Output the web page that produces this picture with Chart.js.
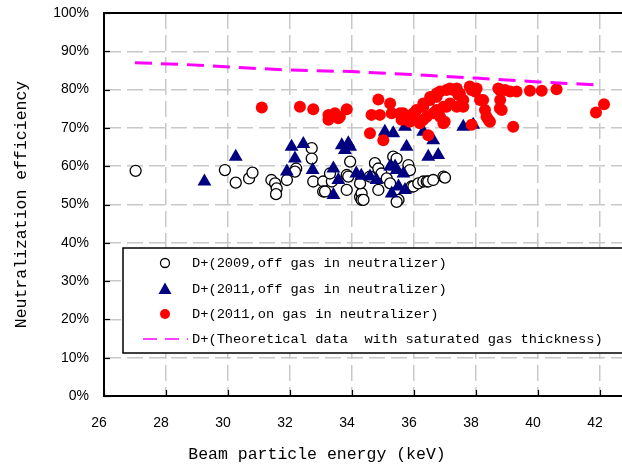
<!DOCTYPE html>
<html>
<head>
<meta charset="utf-8">
<script src="https://cdn.jsdelivr.net/npm/chart.js@4.4.1/dist/chart.umd.min.js"></script>
<style>
html, body { margin: 0; padding: 0; background: #fff; }
</style>
</head>
<body>
<canvas id="chart" width="622" height="470"></canvas>
<script>
// Axis titles and legend labels
var xTitle = 'Beam particle energy (keV)';
var yTitle = 'Neutralization efficiency';
var legendLabels = [
	'D+(2009,off gas in neutralizer)',
	'D+(2011,off gas in neutralizer)',
	'D+(2011,on gas in neutralizer)',
	'D+(Theoretical data  with saturated gas thickness)'
];
var xTicks = [26, 28, 30, 32, 34, 36, 38, 40, 42];
var yTicks = [0, 10, 20, 30, 40, 50, 60, 70, 80, 90, 100];

// D+ 2009, off gas (energy keV, efficiency %)
var e2009 = [27.02, 29.9, 30.25, 30.68, 30.79, 31.4, 31.52, 31.57, 31.55, 31.9, 32.2, 32.16, 32.7, 32.7, 32.75, 33.07, 33.07, 33.13, 33.35, 33.29, 33.83, 33.94, 33.83, 33.88, 34.26, 34.31, 34.31, 34.37, 34.26, 34.58, 34.74, 34.85, 34.85, 34.95, 35.12, 35.23, 35.33, 35.44, 35.5, 35.44, 35.82, 35.87, 35.92, 35.98, 36.14, 36.3, 36.41, 36.46, 36.62, 36.95, 37.0];
var eff2009 = [58.8, 59.0, 55.7, 56.8, 58.3, 56.4, 55.5, 54.2, 52.7, 56.4, 59.4, 58.6, 64.7, 62.0, 56.0, 56.0, 53.4, 53.4, 56.0, 58.1, 53.8, 61.2, 57.7, 57.3, 52.0, 52.9, 51.2, 51.2, 55.5, 57.3, 60.8, 59.4, 53.8, 58.1, 56.8, 55.5, 62.5, 62.0, 51.2, 50.7, 60.3, 59.0, 54.7, 54.7, 55.5, 56.0, 56.0, 56.0, 56.4, 57.3, 57.0];

// D+ 2011, off gas
var e2011off = [29.24, 30.25, 31.9, 32.05, 32.16, 32.43, 32.73, 33.4, 33.56, 33.4, 33.67, 33.88, 33.77, 33.94, 34.14, 34.3, 34.58, 34.79, 35.06, 35.33, 35.71, 35.76, 35.39, 35.23, 35.44, 35.5, 35.71, 35.28, 35.66, 36.3, 36.62, 36.46, 36.78, 37.59, 37.91];
var eff2011off = [56.0, 62.5, 58.6, 65.1, 62.0, 65.8, 59.0, 59.4, 56.4, 52.5, 65.5, 66.0, 64.2, 65.1, 58.1, 57.5, 57.3, 56.4, 69.0, 68.6, 70.3, 65.1, 59.9, 59.9, 59.0, 54.7, 53.8, 52.9, 58.1, 69.0, 66.8, 62.5, 62.9, 70.3, 70.8];

// D+ 2011, on gas
var e2011on = [31.09, 32.32, 32.75, 33.24, 33.45, 33.24, 33.56, 33.83, 33.61, 34.85, 34.63, 35.23, 35.28, 34.9, 34.58, 35.01, 35.65, 35.76, 35.98, 36.19, 36.3, 36.52, 36.73, 36.84, 37.05, 37.27, 37.43, 36.95, 37.16, 37.38, 36.84, 36.95, 36.62, 36.41, 36.08, 37.59, 37.86, 38.02, 38.13, 38.23, 38.34, 38.45, 37.86, 36.46, 38.72, 38.94, 38.78, 38.83, 39.31, 39.2, 39.74, 40.12, 40.6, 41.87, 42.13, 37.8, 37.97, 38.29, 38.4, 38.77, 39.1, 38.77, 36.99, 36.08, 36.3, 36.52, 36.73, 37.16, 37.38, 37.48, 37.59, 36.73, 37.05, 36.3, 35.87, 35.55, 35.6];
var eff2011on = [75.3, 75.5, 74.9, 73.4, 73.8, 72.1, 72.5, 74.9, 72.9, 77.4, 73.4, 76.4, 73.8, 73.4, 68.6, 66.8, 73.8, 72.1, 73.8, 71.2, 75.5, 77.3, 78.1, 79.5, 79.9, 79.9, 78.6, 75.5, 76.4, 75.5, 72.9, 71.2, 73.8, 72.9, 72.1, 75.5, 79.9, 80.3, 77.3, 77.3, 72.9, 71.6, 70.8, 68.1, 80.3, 79.9, 77.3, 74.7, 79.5, 70.3, 79.7, 79.7, 80.1, 74.0, 76.2, 80.8, 79.5, 74.7, 72.1, 79.9, 79.5, 75.1, 71.6, 74.7, 76.4, 78.1, 79.0, 80.3, 80.3, 79.0, 77.3, 74.7, 75.5, 72.1, 71.6, 73.8, 72.1];

// Theoretical curve
var eTheory = [27, 28.5, 30.5, 32, 34, 36, 38, 40, 42];
var effTheory = [87.0, 86.6, 85.7, 85.1, 84.7, 83.9, 83.0, 82.0, 81.2];

function toPoints(xs, ys) {
	var pts = [];
	for (var i = 0; i < xs.length; i++) {
		pts.push({ x: xs[i], y: ys[i] });
	}
	return pts;
}

var monoFont = '"Liberation Mono", "DejaVu Sans Mono", monospace';

// Frame, inward ticks, legend box and x title
var framePlugin = {
	id: 'frame',
	afterDraw: function(chart) {
		var ctx = chart.ctx;
		var a = chart.chartArea;
		var xs = chart.scales.x;
		var ys = chart.scales.y;
		ctx.save();

		// top border
		ctx.strokeStyle = '#000';
		ctx.lineWidth = 2;
		ctx.beginPath();
		ctx.moveTo(a.left, a.top);
		ctx.lineTo(a.right, a.top);
		ctx.stroke();

		// short ticks pointing into the plot
		ctx.lineWidth = 1.2;
		xTicks.forEach(function(v) {
			var px = Math.round(xs.getPixelForValue(v)) + 0.5;
			ctx.beginPath();
			ctx.moveTo(px, a.bottom);
			ctx.lineTo(px, a.bottom - 6);
			ctx.stroke();
		});
		yTicks.forEach(function(v) {
			var py = Math.round(ys.getPixelForValue(v)) + 0.5;
			ctx.beginPath();
			ctx.moveTo(a.left, py);
			ctx.lineTo(a.left + 6, py);
			ctx.stroke();
		});

		// legend box
		var bx = 123, by = 248, bw = 520, bh = 105;
		ctx.fillStyle = '#fff';
		ctx.fillRect(bx, by, bw, bh);
		ctx.strokeStyle = '#000';
		ctx.lineWidth = 1.5;
		ctx.strokeRect(bx, by, bw, bh);

		var rows = [263, 289, 314, 339];
		var mx = 165, tx = 192;
		var ds = chart.data.datasets;

		// circle marker
		ctx.beginPath();
		ctx.arc(mx, rows[0], 4.5, 0, Math.PI * 2);
		ctx.fillStyle = '#fff';
		ctx.fill();
		ctx.strokeStyle = '#000';
		ctx.lineWidth = 1.3;
		ctx.stroke();

		// triangle marker
		ctx.beginPath();
		ctx.moveTo(mx, rows[1] - 6.5);
		ctx.lineTo(mx + 6.5, rows[1] + 5);
		ctx.lineTo(mx - 6.5, rows[1] + 5);
		ctx.closePath();
		ctx.fillStyle = ds[1].backgroundColor;
		ctx.fill();

		// filled circle marker
		ctx.beginPath();
		ctx.arc(mx, rows[2], 5, 0, Math.PI * 2);
		ctx.fillStyle = ds[2].backgroundColor;
		ctx.fill();

		// dashed line sample
		ctx.beginPath();
		ctx.setLineDash([14, 8]);
		ctx.strokeStyle = ds[3].borderColor;
		ctx.lineWidth = 1.5;
		ctx.moveTo(143, rows[3]);
		ctx.lineTo(188, rows[3]);
		ctx.stroke();
		ctx.setLineDash([]);

		ctx.fillStyle = '#000';
		ctx.font = '13.7px ' + monoFont;
		ctx.textAlign = 'left';
		ctx.textBaseline = 'middle';
		for (var i = 0; i < legendLabels.length; i++) {
			ctx.fillText(legendLabels[i], tx, rows[i]);
		}

		// x axis title
		ctx.font = '16.5px ' + monoFont;
		ctx.textAlign = 'center';
		ctx.fillText(xTitle, 317, 455);

		ctx.restore();
	}
};

var ctx = document.getElementById('chart').getContext('2d');
var chart = new Chart(ctx, {
	type: 'scatter',
	data: {
		datasets: [{
			label: legendLabels[0],
			data: toPoints(e2009, eff2009),
			pointStyle: 'circle',
			pointRadius: 5.5,
			backgroundColor: '#ffffff',
			borderColor: '#000000',
			borderWidth: 1.3,
			order: 3
		}, {
			label: legendLabels[1],
			data: toPoints(e2011off, eff2011off),
			pointStyle: 'triangle',
			pointRadius: 8,
			backgroundColor: '#000080',
			borderColor: '#000080',
			borderWidth: 0,
			order: 2
		}, {
			label: legendLabels[2],
			data: toPoints(e2011on, eff2011on),
			pointStyle: 'circle',
			pointRadius: 6,
			backgroundColor: '#ff0000',
			borderColor: '#ff0000',
			borderWidth: 0,
			order: 1
		}, {
			label: legendLabels[3],
			data: toPoints(eTheory, effTheory),
			showLine: true,
			pointRadius: 0,
			borderColor: '#ff00ff',
			borderWidth: 3,
			borderDash: [17, 9],
			tension: 0,
			order: 0
		}]
	},
	options: {
		responsive: false,
		animation: false,
		layout: { autoPadding: false, padding: { top: 13, right: 0, left: 0, bottom: 0 } },
		plugins: {
			legend: { display: false },
			tooltip: { enabled: false }
		},
		scales: {
			x: {
				type: 'linear',
				min: 26,
				max: 42.71,
				afterBuildTicks: function(axis) {
					axis.ticks = xTicks.map(function(v) { return { value: v }; });
				},
				afterFit: function(scale) {
					scale.height = 74;
					scale.paddingLeft = 0;
					scale.paddingRight = 0;
				},
				ticks: {
					padding: 19,
					labelOffset: -5,
					color: '#000',
					font: { family: '"Liberation Sans", Arial, sans-serif', size: 14 },
					maxRotation: 0,
					autoSkip: false
				},
				grid: {
					color: '#c8c8c8',
					lineWidth: 1.5,
					drawTicks: false
				},
				border: { color: '#000', width: 2, dash: [16, 6] }
			},
			y: {
				min: 0,
				max: 100,
				afterBuildTicks: function(axis) {
					axis.ticks = yTicks.map(function(v) { return { value: v }; });
				},
				afterFit: function(scale) {
					scale.width = 104;
					scale.paddingTop = 0;
					scale.paddingBottom = 0;
				},
				ticks: {
					padding: 15,
					color: '#000',
					font: { family: '"Liberation Sans", Arial, sans-serif', size: 14 },
					callback: function(v) { return v + '%'; }
				},
				grid: {
					color: '#c8c8c8',
					lineWidth: 1.5,
					drawTicks: false
				},
				border: { color: '#000', width: 2, dash: [16, 6] },
				title: {
					display: true,
					text: yTitle,
					color: '#000',
					font: { family: monoFont, size: 16.5, weight: 'normal' },
					padding: { top: 12, bottom: 0 }
				}
			}
		}
	},
	plugins: [framePlugin]
});
</script>
</body>
</html>
